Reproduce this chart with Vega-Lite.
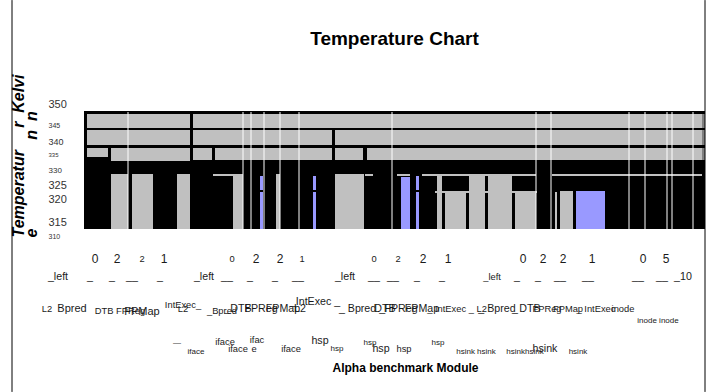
{
  "$schema": "https://vega.github.io/schema/vega-lite/v6.json",
  "width": 621,
  "height": 145,
  "autosize": "none",
  "padding": {"left": 84, "top": 95, "right": 5, "bottom": 152},
  "background": "white",
  "title": {"text": "Temperature Chart", "fontSize": 19, "font": "Liberation Sans", "fontWeight": "bold", "color": "#000000", "anchor": "middle", "offset": -49},
  "config": {"view": {"stroke": null}, "font": "Liberation Sans", "axisY": {"labelOverlap": false}},
  "datasets": {
    "blocks": [
      {"kind": "ground", "from": 0, "to": 124.2, "low": 312.34, "high": 348.14},
      {"kind": "band", "from": 0.6, "to": 21.2, "low": 342.99, "high": 347.23},
      {"kind": "band", "from": 21.8, "to": 123.6, "low": 342.99, "high": 347.23},
      {"kind": "band", "from": 0.6, "to": 21.2, "low": 337.83, "high": 342.38},
      {"kind": "band", "from": 21.8, "to": 49.6, "low": 337.83, "high": 342.38},
      {"kind": "band", "from": 50.2, "to": 123.6, "low": 337.83, "high": 342.38},
      {"kind": "band", "from": 0.6, "to": 4.8, "low": 334.19, "high": 336.92},
      {"kind": "band", "from": 5.4, "to": 21.2, "low": 332.97, "high": 336.92},
      {"kind": "band", "from": 21.8, "to": 25.6, "low": 333.28, "high": 336.92},
      {"kind": "band", "from": 26.2, "to": 49.6, "low": 333.28, "high": 336.92},
      {"kind": "band", "from": 50.2, "to": 55.8, "low": 333.28, "high": 336.92},
      {"kind": "band", "from": 56.6, "to": 123.6, "low": 333.28, "high": 336.92},
      {"kind": "edge", "from": 123.6, "to": 124.2, "low": 342.99, "high": 347.23},
      {"kind": "edge", "from": 123.6, "to": 124.2, "low": 337.83, "high": 342.38},
      {"kind": "edge", "from": 123.6, "to": 124.2, "low": 333.28, "high": 336.92},
      {"kind": "bar", "from": 25.8, "to": 29.8, "low": 328.42, "high": 329.03},
      {"kind": "bar", "from": 56.2, "to": 57.8, "low": 328.42, "high": 329.03},
      {"kind": "bar", "from": 62.6, "to": 65.2, "low": 328.42, "high": 329.03},
      {"kind": "bar", "from": 67.6, "to": 90.4, "low": 328.42, "high": 329.03},
      {"kind": "bar", "from": 93.6, "to": 123.6, "low": 328.42, "high": 329.03},
      {"kind": "bar", "from": 70.2, "to": 90.6, "low": 323.26, "high": 323.87},
      {"kind": "bar", "from": 5.4, "to": 8.8, "low": 312.34, "high": 329.03},
      {"kind": "bar", "from": 9.6, "to": 13.8, "low": 312.34, "high": 329.03},
      {"kind": "bar", "from": 18.6, "to": 21.2, "low": 312.34, "high": 329.03},
      {"kind": "bar", "from": 29.8, "to": 31.8, "low": 312.34, "high": 329.03},
      {"kind": "bar", "from": 38.4, "to": 39.2, "low": 312.34, "high": 329.03},
      {"kind": "bar", "from": 50.2, "to": 56.0, "low": 312.34, "high": 329.03},
      {"kind": "bar", "from": 70.6, "to": 71.6, "low": 312.34, "high": 328.42},
      {"kind": "bar", "from": 72.2, "to": 76.4, "low": 312.34, "high": 323.26},
      {"kind": "bar", "from": 77.0, "to": 80.2, "low": 312.34, "high": 328.42},
      {"kind": "bar", "from": 80.8, "to": 85.6, "low": 312.34, "high": 328.42},
      {"kind": "bar", "from": 86.2, "to": 90.4, "low": 312.34, "high": 323.26},
      {"kind": "bar", "from": 94.2, "to": 94.6, "low": 312.34, "high": 323.57},
      {"kind": "bar", "from": 95.2, "to": 97.8, "low": 312.34, "high": 323.87},
      {"kind": "probe", "from": 35.2, "to": 35.8, "low": 312.34, "high": 328.42},
      {"kind": "probe", "from": 45.8, "to": 46.4, "low": 312.34, "high": 328.42},
      {"kind": "probe", "from": 63.4, "to": 65.2, "low": 312.34, "high": 328.12},
      {"kind": "probe", "from": 66.4, "to": 67.0, "low": 312.34, "high": 328.42},
      {"kind": "probe", "from": 98.4, "to": 104.2, "low": 312.34, "high": 323.87},
      {"kind": "seam", "from": 35.2, "to": 35.8, "low": 323.57, "high": 324.18},
      {"kind": "seam", "from": 45.8, "to": 46.4, "low": 323.57, "high": 324.18},
      {"kind": "seam", "from": 66.4, "to": 67.0, "low": 323.57, "high": 324.18}
    ],
    "gaps": [
      {"at": 8.8, "low": 312.34, "high": 347.84},
      {"at": 31.8, "low": 312.34, "high": 347.84},
      {"at": 33.4, "low": 312.34, "high": 347.84},
      {"at": 36.0, "low": 312.34, "high": 347.84},
      {"at": 39.2, "low": 312.34, "high": 347.84},
      {"at": 43.0, "low": 312.34, "high": 347.84},
      {"at": 61.6, "low": 312.34, "high": 347.84},
      {"at": 90.4, "low": 312.34, "high": 347.84},
      {"at": 93.4, "low": 312.34, "high": 347.84},
      {"at": 109.0, "low": 312.34, "high": 347.84},
      {"at": 112.2, "low": 312.34, "high": 347.84},
      {"at": 116.6, "low": 312.34, "high": 347.84},
      {"at": 117.6, "low": 312.34, "high": 347.84},
      {"at": 121.8, "low": 312.34, "high": 347.84}
    ],
    "border": [
      {"at": -14.4, "low": 262.9, "high": 381.8},
      {"at": 124.2, "low": 262.9, "high": 381.8}
    ],
    "labels": [
      {"text": "0", "at": 2.2, "line": 1.27, "tier": "big"},
      {"text": "2", "at": 6.6, "line": 1.27, "tier": "big"},
      {"text": "2", "at": 11.6, "line": 1.27, "tier": "tiny"},
      {"text": "1", "at": 16.0, "line": 1.27, "tier": "big"},
      {"text": "0", "at": 29.6, "line": 1.27, "tier": "tiny"},
      {"text": "2", "at": 34.4, "line": 1.27, "tier": "big"},
      {"text": "2", "at": 39.2, "line": 1.27, "tier": "big"},
      {"text": "1", "at": 43.6, "line": 1.27, "tier": "tiny"},
      {"text": "0", "at": 58.0, "line": 1.27, "tier": "tiny"},
      {"text": "2", "at": 62.8, "line": 1.27, "tier": "tiny"},
      {"text": "2", "at": 67.8, "line": 1.27, "tier": "big"},
      {"text": "1", "at": 72.8, "line": 1.27, "tier": "big"},
      {"text": "0", "at": 87.8, "line": 1.27, "tier": "big"},
      {"text": "2", "at": 91.8, "line": 1.27, "tier": "big"},
      {"text": "2", "at": 95.8, "line": 1.27, "tier": "big"},
      {"text": "1", "at": 101.6, "line": 1.27, "tier": "big"},
      {"text": "0", "at": 111.8, "line": 1.27, "tier": "big"},
      {"text": "5", "at": 116.4, "line": 1.27, "tier": "big"},
      {"text": "_left", "at": -5.2, "line": 2.45, "tier": "small"},
      {"text": "_", "at": 1.2, "line": 2.45, "tier": "small"},
      {"text": "_", "at": 5.6, "line": 2.45, "tier": "small"},
      {"text": "__", "at": 9.6, "line": 2.45, "tier": "small"},
      {"text": "_", "at": 15.2, "line": 2.45, "tier": "small"},
      {"text": "_left", "at": 24.0, "line": 2.45, "tier": "small"},
      {"text": "__", "at": 28.6, "line": 2.45, "tier": "small"},
      {"text": "_", "at": 33.2, "line": 2.45, "tier": "small"},
      {"text": "_", "at": 38.2, "line": 2.45, "tier": "small"},
      {"text": "__", "at": 42.8, "line": 2.45, "tier": "small"},
      {"text": "_left", "at": 52.2, "line": 2.45, "tier": "small"},
      {"text": "__", "at": 58.0, "line": 2.45, "tier": "small"},
      {"text": "__", "at": 61.8, "line": 2.45, "tier": "small"},
      {"text": "_", "at": 66.6, "line": 2.45, "tier": "small"},
      {"text": "_", "at": 71.6, "line": 2.45, "tier": "small"},
      {"text": "_left", "at": 81.6, "line": 2.45, "tier": "tiny"},
      {"text": "_", "at": 86.6, "line": 2.45, "tier": "small"},
      {"text": "_", "at": 90.8, "line": 2.45, "tier": "small"},
      {"text": "__", "at": 95.2, "line": 2.45, "tier": "small"},
      {"text": "__", "at": 100.8, "line": 2.45, "tier": "small"},
      {"text": "__", "at": 110.8, "line": 2.45, "tier": "small"},
      {"text": "__", "at": 115.6, "line": 2.45, "tier": "small"},
      {"text": "_10", "at": 119.8, "line": 2.45, "tier": "small"},
      {"text": "L2", "at": -7.4, "line": 4.6, "tier": "tiny"},
      {"text": "Bpred", "at": -2.4, "line": 4.6, "tier": "medium"},
      {"text": "DTB FPReg", "at": 7.2, "line": 4.73, "tier": "tiny"},
      {"text": "FPMap", "at": 11.6, "line": 4.8, "tier": "medium"},
      {"text": "IntExec_", "at": 19.8, "line": 4.33, "tier": "tiny"},
      {"text": "L2", "at": 19.8, "line": 4.6, "tier": "tiny"},
      {"text": "_Bpred", "at": 27.6, "line": 4.73, "tier": "tiny"},
      {"text": "_DTB", "at": 30.8, "line": 4.6, "tier": "small"},
      {"text": "FPReg", "at": 35.4, "line": 4.6, "tier": "small"},
      {"text": "FPMap", "at": 39.8, "line": 4.6, "tier": "small"},
      {"text": "_IntExec _", "at": 46.2, "line": 4.13, "tier": "small"},
      {"text": "L2", "at": 43.2, "line": 4.6, "tier": "small"},
      {"text": "_ Bpred _", "at": 55.6, "line": 4.6, "tier": "small"},
      {"text": "DTB", "at": 60.2, "line": 4.6, "tier": "small"},
      {"text": "FPReg", "at": 63.4, "line": 4.6, "tier": "small"},
      {"text": "FPMap", "at": 67.6, "line": 4.6, "tier": "small"},
      {"text": "_ IntExec _ L2", "at": 74.6, "line": 4.6, "tier": "tiny"},
      {"text": "_ Bpred", "at": 82.6, "line": 4.6, "tier": "small"},
      {"text": "_", "at": 86.2, "line": 4.6, "tier": "small"},
      {"text": "DTB", "at": 89.2, "line": 4.6, "tier": "small"},
      {"text": "FPReg", "at": 92.6, "line": 4.6, "tier": "tiny"},
      {"text": "FPMap", "at": 96.8, "line": 4.6, "tier": "tiny"},
      {"text": "_ IntExec", "at": 102.4, "line": 4.6, "tier": "tiny"},
      {"text": "inode", "at": 107.8, "line": 4.6, "tier": "tiny"},
      {"text": "inode inode", "at": 114.8, "line": 5.4, "tier": "mini"},
      {"text": "\u2014", "at": 18.6, "line": 6.87, "tier": "mini"},
      {"text": "iface", "at": 22.4, "line": 7.47, "tier": "mini"},
      {"text": "iface", "at": 28.2, "line": 6.8, "tier": "tiny"},
      {"text": "iface", "at": 30.8, "line": 7.27, "tier": "tiny"},
      {"text": "ifac", "at": 34.6, "line": 6.67, "tier": "tiny"},
      {"text": "e", "at": 34.0, "line": 7.27, "tier": "tiny"},
      {"text": "iface", "at": 41.4, "line": 7.27, "tier": "tiny"},
      {"text": "hsp", "at": 47.2, "line": 6.73, "tier": "small"},
      {"text": "hsp", "at": 50.6, "line": 7.27, "tier": "mini"},
      {"text": "hsp", "at": 57.2, "line": 6.87, "tier": "mini"},
      {"text": "hsp", "at": 59.4, "line": 7.27, "tier": "small"},
      {"text": "hsp", "at": 64.0, "line": 7.27, "tier": "tiny"},
      {"text": "hsp", "at": 70.8, "line": 6.87, "tier": "mini"},
      {"text": "hsink hsink", "at": 78.4, "line": 7.47, "tier": "mini"},
      {"text": "hsinkhsink", "at": 88.2, "line": 7.47, "tier": "mini"},
      {"text": "hsink", "at": 92.2, "line": 7.27, "tier": "small"},
      {"text": "hsink", "at": 98.8, "line": 7.47, "tier": "mini"}
    ]
  },
  "layer": [
    {
      "encoding": {
        "y": {"field": "low", "type": "quantitative", "scale": {"domain": [309, 353], "nice": false, "zero": false},
          "axis": {
            "values": [310, 315, 320, 325, 330, 335, 340, 345, 350],
            "grid": false, "domain": false, "ticks": false, "tickSize": 0,
            "labelOverlap": false, "labelBound": false, "labelFlush": false,
            "labelAlign": "left", "labelPadding": 36, "labelColor": "#333333", "labelFont": "Liberation Sans",
            "labelFontSize": {"condition": [
              {"test": "datum.value == 345", "value": 7},
              {"test": "datum.value == 335", "value": 6},
              {"test": "datum.value == 310", "value": 7},
              {"test": "datum.value == 340", "value": 9},
              {"test": "datum.value == 330", "value": 8}
            ], "value": 11},
            "labelOffset": {"condition": [
              {"test": "datum.value == 345", "value": 4},
              {"test": "datum.value == 340", "value": 4},
              {"test": "datum.value == 325", "value": -2},
              {"test": "datum.value == 320", "value": -4},
              {"test": "datum.value == 315", "value": 2}
            ], "value": 0},
            "title": ["Temperatur\u00a0\u00a0\u00a0\u00a0\u00a0r\u00a0\u00a0Kelvi", "e\u00a0\u00a0\u00a0\u00a0\u00a0\u00a0\u00a0\u00a0\u00a0\u00a0\u00a0\u00a0\u00a0\u00a0\u00a0\u00a0\u00a0\u00a0\u00a0\u00a0n\u00a0\u00a0n"],
            "titleFont": "Liberation Sans", "titleFontSize": 16, "titleFontWeight": "bold", "titleFontStyle": "italic",
            "titleColor": "#000000", "titleAngle": -90, "titleAlign": "left", "titleBaseline": "middle",
            "titleLineHeight": 13, "titleX": -65.5, "titleY": 142
          }},
        "y2": {"field": "high"}
      },
      "layer": [
        {
          "data": {"name": "blocks"},
          "mark": {"type": "rect"},
          "encoding": {
            "x": {"field": "from", "type": "quantitative", "scale": {"domain": [0, 124.2], "nice": false, "zero": false},
              "axis": {"title": "Alpha benchmark Module", "labels": false, "ticks": false, "domain": false, "grid": false,
                "titleFont": "Liberation Sans", "titleFontSize": 12, "titleFontWeight": "bold", "titleColor": "#000000",
                "titleX": 321, "titleY": 127, "titleBaseline": "middle", "titleAlign": "center"}},
            "x2": {"field": "to"},
            "color": {"field": "kind", "type": "nominal", "legend": null,
              "scale": {"domain": ["ground", "band", "bar", "probe", "edge", "seam"],
                "range": ["#000000", "#c0c0c0", "#c0c0c0", "#9999ff", "#808080", "#000000"]}}
          }
        },
        {
          "data": {"name": "gaps"},
          "mark": {"type": "rule", "color": "#ffffff", "strokeWidth": 1},
          "encoding": {
            "x": {"field": "at", "type": "quantitative", "scale": {"domain": [0, 124.2], "nice": false, "zero": false}}
          }
        },
        {
          "data": {"name": "border"},
          "mark": {"type": "rule", "color": "#000000", "strokeWidth": 1},
          "encoding": {
            "x": {"field": "at", "type": "quantitative", "scale": {"domain": [0, 124.2], "nice": false, "zero": false}}
          }
        }
      ]
    },
    {
      "data": {"name": "labels"},
      "mark": {"type": "text", "font": "Liberation Sans", "color": "#1a1a1a", "baseline": "middle", "align": "center"},
      "encoding": {
        "x": {"field": "at", "type": "quantitative", "scale": {"domain": [0, 124.2], "nice": false, "zero": false}},
        "y": {"field": "line", "type": "quantitative", "axis": null, "scale": {"domain": [0, 10], "range": [145, 295]}},
        "text": {"field": "text"},
        "size": {"field": "tier", "type": "nominal", "legend": null,
          "scale": {"domain": ["big", "small", "tiny", "mini"], "range": [12, 8, 6, 4]}}
      }
    }
  ],
  "resolve": {"scale": {"y": "independent", "size": "independent"}}
}
